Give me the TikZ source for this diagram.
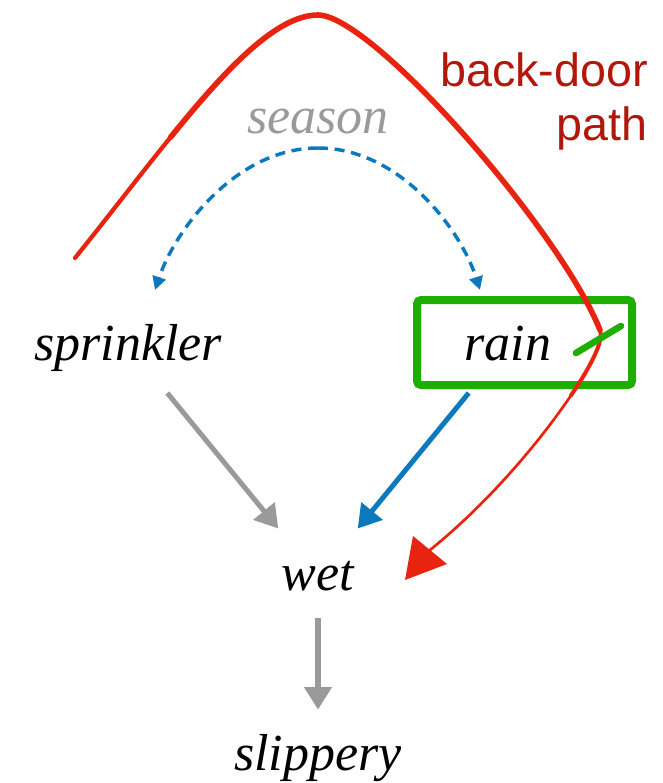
\documentclass[tikz,border=0pt]{standalone}
\usepackage{fontspec}
\setmainfont{Liberation Serif}
\newfontfamily\labelsans{Liberation Sans}
\usetikzlibrary{arrows.meta}
\definecolor{rdline}{HTML}{E8230F}
\definecolor{rdtext}{HTML}{B2170B}
\definecolor{grn}{HTML}{1EAE00}
\definecolor{blu}{HTML}{0C79BF}
\definecolor{gry}{HTML}{9A9A9A}
\begin{document}
\begin{tikzpicture}[x=0.75pt,y=-0.75pt,
  var/.style={font=\fontsize{39}{44}\selectfont\itshape, anchor=base, inner sep=0pt},
  grayarrow/.style={draw=gry, line width=3.75pt, -{Triangle[length=17pt,width=20pt]}},
  bluearrow/.style={draw=blu, line width=3.75pt, -{Triangle[length=17pt,width=20pt]}},
  dasharrow/.style={draw=blu, line width=2.6pt, dash pattern=on 7.5pt off 5pt, -{Triangle[length=10pt,width=10pt]}},
  redstroke/.style={draw=rdline, line cap=round, line join=round},
  boxstyle/.style={draw=grn, line width=6pt, rounded corners=3pt, minimum width=161.25pt, minimum height=63.75pt, inner sep=0pt}
]
\useasboundingbox (0,0) rectangle (662,783);

% boxed highlight around rain
\node[boxstyle] (rainbox) at (524.5,342.5) {};

% variables
\node[var, text=gry] (season) at (318,133) {season};
\node[var] (sprinkler) at (128,360) {sprinkler};
\node[var] (rain) at (508,360) {rain};
\node[var] (wet) at (318,590) {wet};
\node[var] (slippery) at (318,770) {slippery};

% label
\node[font=\labelsans\fontsize{35}{41}\selectfont, text=rdtext, align=right, anchor=north east, inner sep=0pt] (bdlabel) at (648,52) {back-door\\path};

% centre points for connectors
\coordinate (sprC) at (128,345);
\coordinate (rainC) at (508,345);
\coordinate (wetC) at (318,577);
\coordinate (slipC) at (318,755);
\coordinate (arcTop) at (318,148);
\coordinate (sprIn) at (155,290);
\coordinate (rainIn) at (480,290);

% causal arrows
\draw[grayarrow, shorten <=46.5pt, shorten >=47pt] (sprC) -- (wetC);
\draw[bluearrow, shorten <=46.5pt, shorten >=47pt] (rainC) -- (wetC);
\draw[grayarrow, line width=4.5pt, shorten <=31pt, shorten >=34pt] (wetC) -- (slipC);

% season dashed arrows
\draw[dasharrow] (arcTop) .. controls (236,148) and (175,230) .. (sprIn);
\draw[dasharrow] (arcTop) .. controls (400,148) and (461,230) .. (rainIn);

% back-door path (hand drawn)
\coordinate (r0) at (75,258);
\coordinate (rLeft) at (170.6,137.2);
\coordinate (rPeak) at (318,15);
\coordinate (rSide) at (600,330);
\coordinate (rMid) at (571,395.4);
\coordinate (rEnd) at (430,550);
\coordinate (rTip) at (405,580);
\coordinate (rB1) at (447,564);
\coordinate (rB2) at (413,536);
\draw[redstroke, line width=3.2pt] (r0) .. controls (108.25,216.7) and (140.3,174.5) .. (rLeft);
\draw[redstroke, line width=4.2pt] (rLeft) .. controls (226.8,67.8) and (277,15) .. (rPeak)
   .. controls (372,15) and (560,230) .. (rSide);
\draw[redstroke, line width=3pt] (rSide) .. controls (604,340) and (592,364.4) .. (rMid);
\draw[redstroke, line width=2pt] (rMid) .. controls (539.6,441.9) and (488,503.2) .. (rEnd);
\fill[rdline] (rTip) -- (rB1) -- (rB2) -- cycle;

% green tick
\coordinate (g1) at (576,353);
\coordinate (g2) at (621,326);
\draw[draw=grn, line width=5pt, line cap=round] (g1) -- (g2);
\end{tikzpicture}
\end{document}
